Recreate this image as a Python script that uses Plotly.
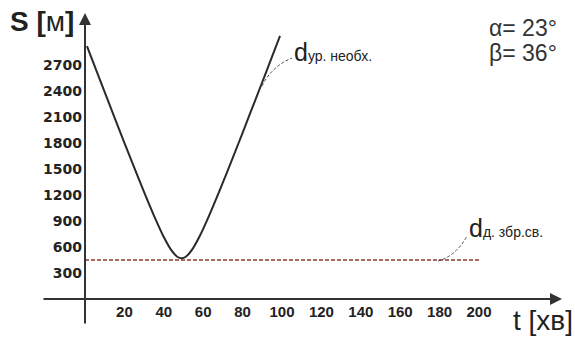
import plotly.graph_objects as go

# Data
t_curve = [1, 5, 10, 15, 20, 25, 30, 35, 40, 44, 47, 49, 51, 54, 58, 63, 68, 75, 80, 85, 90, 95, 99]
s_curve = [2918, 2682, 2387, 2093, 1802, 1515, 1233, 963, 716, 558, 485, 470, 485, 558, 716, 963, 1233, 1629, 1918, 2211, 2504, 2800, 3037]
t_limit = [0, 200]
s_limit = [450, 450]
x_ticks = [20, 40, 60, 80, 100, 120, 140, 160, 180, 200]
y_ticks = [300, 600, 900, 1200, 1500, 1800, 2100, 2400, 2700]

W, H = 575, 338
L, R, T, B = 85, 15, 15, 39
PW, PH = W - L - R, H - T - B
X0PIX, Y0PIX = 85, 299


def px(x):
    return (x - X0PIX) / PW


def py(y):
    return (Y0PIX - y) / PH


fig = go.Figure()
fig.add_trace(go.Scatter(x=t_limit, y=s_limit, mode="lines",
                         line=dict(color="#8a3b2b", width=1.6, dash="4px,2px"),
                         hoverinfo="skip"))
fig.add_trace(go.Scatter(x=t_curve, y=s_curve, mode="lines", line_shape="spline",
                         line=dict(color="#2a2a2a", width=2), hoverinfo="skip"))

xtickfont = dict(family="Liberation Sans, Arial", size=15, color="#222", weight="bold")
ytickfont = dict(family="DejaVu Sans", size=14, color="#222", weight="bold")
fig.update_xaxes(range=[0, PW / 1.97], tickvals=x_ticks, ticktext=[str(v) for v in x_ticks],
                 showgrid=False, zeroline=False, showline=False, ticks="",
                 tickfont=xtickfont, ticklabelstandoff=2)
fig.update_yaxes(range=[0, PH * 300 / 26], tickvals=y_ticks, ticktext=[str(v) for v in y_ticks],
                 showgrid=False, zeroline=False, showline=False, ticks="",
                 tickfont=ytickfont, ticklabelstandoff=2)

ann = []
# axes with arrows
ann.append(dict(x=0, y=py(13), xref="paper", yref="paper", ax=0, ay=312, axref="pixel", ayref="pixel",
                text="", showarrow=True, arrowhead=2, arrowsize=1.2, arrowwidth=2, arrowcolor="#333",
                standoff=0, startstandoff=0))
ann.append(dict(x=px(562), y=0, xref="paper", yref="paper", ax=-520, ay=0,
                text="", showarrow=True, arrowhead=2, arrowsize=1.2, arrowwidth=2, arrowcolor="#333",
                standoff=0, startstandoff=0))

fnt = "Liberation Sans, Arial"
ann.append(dict(x=px(8), y=py(22), xref="paper", yref="paper", xanchor="left", yanchor="middle",
                text="<b>S</b> <b>[</b>м<b>]</b>", showarrow=False, font=dict(family=fnt, size=28, color="#222")))
ann.append(dict(x=px(511), y=py(320), xref="paper", yref="paper", xanchor="left", yanchor="middle",
                text="t [хв]", showarrow=False, font=dict(family=fnt, size=28, color="#222")))
ann.append(dict(x=px(487), y=py(28), xref="paper", yref="paper", xanchor="left", yanchor="middle",
                text="α= 23°", showarrow=False, font=dict(family=fnt, size=23, color="#333")))
ann.append(dict(x=px(487), y=py(53), xref="paper", yref="paper", xanchor="left", yanchor="middle",
                text="β= 36°", showarrow=False, font=dict(family=fnt, size=23, color="#333")))
ann.append(dict(x=px(292), y=py(52), xref="paper", yref="paper", xanchor="left", yanchor="middle",
                text="d<span style='font-size:14px'>ур. необх.</span>", showarrow=False,
                font=dict(family=fnt, size=25, color="#222")))
ann.append(dict(x=px(467), y=py(228), xref="paper", yref="paper", xanchor="left", yanchor="middle",
                text="d<span style='font-size:14px'>д. збр.св.</span>", showarrow=False,
                font=dict(family=fnt, size=25, color="#222")))

shapes = [
    dict(type="path", xref="paper", yref="paper",
         path=f"M {px(262)},{py(86)} Q {px(272)},{py(66)} {px(292)},{py(58)}",
         line=dict(color="#444", width=1, dash="3px,2px")),
    dict(type="path", xref="paper", yref="paper",
         path=f"M {px(438)},{py(261)} Q {px(456)},{py(256)} {px(467)},{py(236)}",
         line=dict(color="#444", width=1, dash="3px,2px")),
]

fig.update_layout(width=W, height=H, margin=dict(l=L, r=R, t=T, b=B),
                  plot_bgcolor="white", paper_bgcolor="white", showlegend=False,
                  annotations=ann, shapes=shapes)
fig.write_html("out.html", config={"displayModeBar": False},
               post_script="document.body.style.margin='0';document.body.style.overflow='hidden';")
